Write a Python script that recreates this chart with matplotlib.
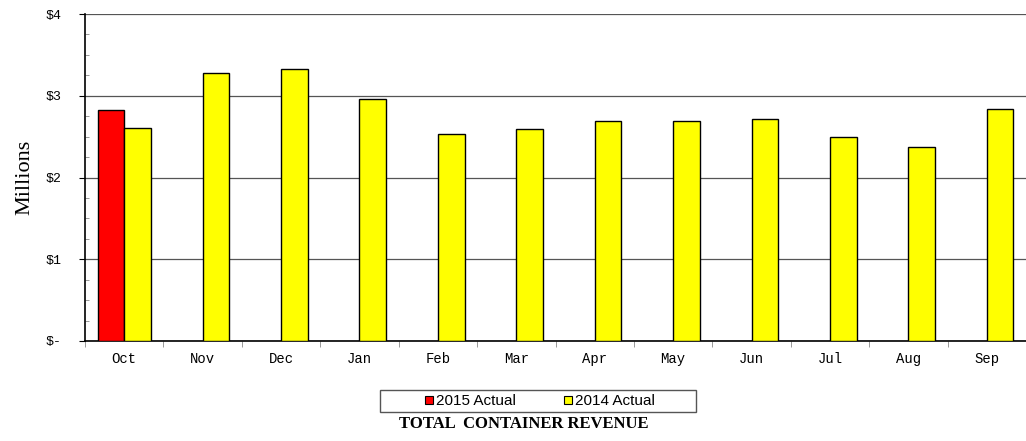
import numpy as np
import matplotlib
matplotlib.use("Agg")
import matplotlib.pyplot as plt
from matplotlib.patches import Rectangle
from matplotlib.lines import Line2D
from matplotlib.ticker import MultipleLocator

months = ["Oct", "Nov", "Dec", "Jan", "Feb", "Mar", "Apr", "May", "Jun", "Jul", "Aug", "Sep"]
actual_2015 = [2.83]
actual_2014 = [2.61, 3.28, 3.33, 2.96, 2.53, 2.59, 2.69, 2.69, 2.71, 2.50, 2.37, 2.84]
y_ticks = [0, 1, 2, 3, 4]
y_labels = ["$-", "$1", "$2", "$3", "$4"]

W, H = 1026, 441
fig = plt.figure(figsize=(W / 100, H / 100), dpi=100)
ax = fig.add_axes([85 / W, 1 - 341 / H, 941 / W, 327 / H])

x = np.arange(len(months))
w = 0.34
ax.bar(x[:len(actual_2015)] - w / 2, actual_2015, w, color="#ff0000", edgecolor="black",
       linewidth=1, zorder=3)
ax.bar(x + w / 2, actual_2014, w, color="#ffff00", edgecolor="black",
       linewidth=1, zorder=3)

ax.set_xlim(-0.5, len(months) - 0.5)
ax.set_ylim(0, 4)

ax.set_yticks(y_ticks)
ax.set_yticklabels(y_labels, family="Liberation Mono", fontsize=9.5)
ax.yaxis.set_minor_locator(MultipleLocator(0.25))
ax.grid(axis="y", which="major", color="#555555", linewidth=0.9, zorder=0)
ax.tick_params(axis="y", which="major", length=4, direction="out", pad=13)
ax.tick_params(axis="y", which="minor", length=3, direction="in", color="#888888")

ax.set_xticks(x)
ax.set_xticklabels(months, family="Liberation Mono", fontsize=10)
ax.set_xticks(np.arange(len(months) + 1) - 0.5, minor=True)
ax.tick_params(axis="x", which="major", length=0, pad=8)
ax.tick_params(axis="x", which="minor", length=4, direction="out", color="#888888")

ax.spines["right"].set_visible(False)
ax.spines["top"].set_visible(False)
ax.spines["left"].set_linewidth(1.2)
ax.spines["bottom"].set_linewidth(1.2)

ax.set_ylabel("Millions", family="Liberation Serif", fontsize=16, labelpad=8)

# legend box drawn separately so it can be wider than the entries
fig.patches.append(Rectangle((380 / W, 1 - 412 / H), 316 / W, 22 / H, transform=fig.transFigure,
                             facecolor="white", edgecolor="#555555", linewidth=1, zorder=1))
handles = [
    Line2D([], [], linestyle="none", marker="s", markersize=6, markerfacecolor="#ff0000",
           markeredgecolor="black", markeredgewidth=0.8),
    Line2D([], [], linestyle="none", marker="s", markersize=6, markerfacecolor="#ffff00",
           markeredgecolor="black", markeredgewidth=0.8),
]
leg = fig.legend(handles, ["2015 Actual", "2014 Actual"], loc="center",
                 bbox_to_anchor=(540 / W, 1 - 401 / H), ncol=2,
                 frameon=False, prop={"family": "Liberation Sans", "size": 11},
                 handlelength=0.5, handletextpad=0.2,
                 columnspacing=3.2, borderpad=0, borderaxespad=0)
leg.set_zorder(2)

fig.text(524 / W, 1 - 424 / H, "TOTAL  CONTAINER REVENUE", ha="center", va="center",
         family="Liberation Serif", weight="bold", fontsize=12)

fig.savefig("out.png", dpi=100)
